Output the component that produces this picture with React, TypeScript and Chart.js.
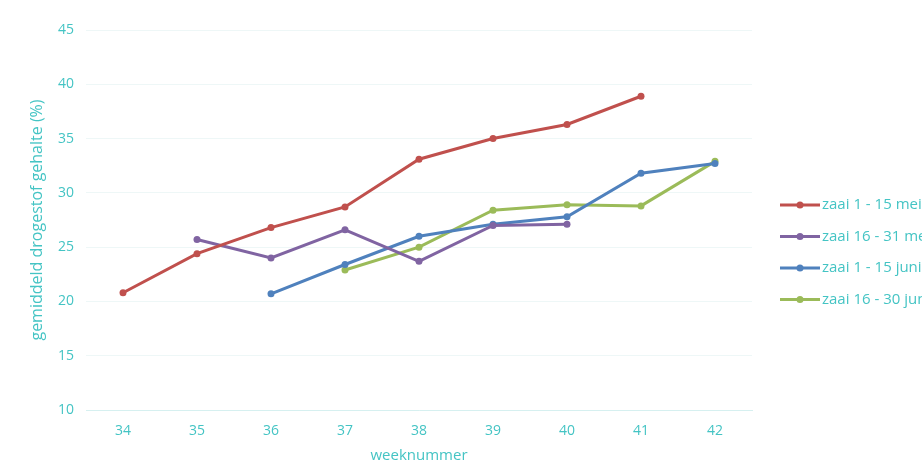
import React, { useEffect, useRef } from "react";
import { Chart, registerables } from "chart.js";

Chart.register(...registerables);

const weeks = ["34", "35", "36", "37", "38", "39", "40", "41", "42"];
const seriesNames = ["zaai 1 - 15 mei", "zaai 16 - 31 mei", "zaai 1 - 15 juni", "zaai 16 - 30 juni"];
const mei1 = [20.8, 24.4, 26.8, 28.7, 33.1, 35.0, 36.3, 38.9, null];
const mei2 = [null, 25.7, 24.0, 26.6, 23.7, 27.0, 27.1, null, null];
const juni1 = [null, null, 20.7, 23.4, 26.0, 27.1, 27.8, 31.8, 32.7];
const juni2 = [null, null, null, 22.9, 25.0, 28.4, 28.9, 28.8, 32.9];
const colors = ["#c0504d", "#8064a2", "#4f81bd", "#9bbb59"];
const yTicks = [10, 15, 20, 25, 30, 35, 40, 45];

const TEXT = "#44c4c4";
const FONT = "'Open Sans', sans-serif";

const legendPlugin = {
  id: "sideLegend",
  afterDraw(chart: any) {
    const { ctx, chartArea } = chart;
    const x0 = chartArea.right + 28;
    const y0 = chartArea.top + 175;
    ctx.save();
    chart.data.datasets.forEach((ds: any, i: number) => {
      const y = y0 + i * 31.5;
      ctx.strokeStyle = ds.borderColor;
      ctx.lineWidth = 3;
      ctx.beginPath();
      ctx.moveTo(x0, y);
      ctx.lineTo(x0 + 40, y);
      ctx.stroke();
      ctx.fillStyle = ds.borderColor;
      ctx.beginPath();
      ctx.arc(x0 + 20, y, 3.5, 0, Math.PI * 2);
      ctx.fill();
      ctx.fillStyle = TEXT;
      ctx.font = "15px " + FONT;
      ctx.textBaseline = "middle";
      ctx.textAlign = "left";
      ctx.fillText(ds.label, x0 + 42, y);
    });
    ctx.restore();
  },
};

export default function App() {
  const ref = useRef<HTMLCanvasElement>(null);
  useEffect(() => {
    const data = [mei1, mei2, juni1, juni2];
    const chart = new Chart(ref.current!, {
      type: "line",
      data: {
        labels: weeks,
        datasets: data.map((d, i) => ({
          label: seriesNames[i],
          data: d as any,
          borderColor: colors[i],
          backgroundColor: colors[i],
          borderWidth: 3,
          pointRadius: 3.5,
          pointBorderWidth: 0,
          pointBackgroundColor: colors[i],
          spanGaps: false,
          tension: 0,
        })),
      },
      options: {
        animation: false,
        responsive: false,
        layout: { padding: { left: 26, right: 170, top: 30, bottom: 0 } },
        plugins: { legend: { display: false }, tooltip: { enabled: false } },
        scales: {
          x: {
            offset: true,
            grid: { display: false, drawTicks: false },
            border: { display: true, color: "#d6f0f0", width: 1 },
            ticks: { color: TEXT, font: { family: FONT, size: 14 }, padding: 13 },
            title: { display: true, text: "weeknummer", color: TEXT, font: { family: FONT, size: 15 }, padding: { top: 4, bottom: 0 } },
            afterFit: (s: any) => { s.height = 55; },
          },
          y: {
            min: 10,
            max: 45,
            afterBuildTicks: (s: any) => { s.ticks = yTicks.map((v) => ({ value: v })); },
            grid: { color: "#eef7f7", drawTicks: false, lineWidth: 1 },
            border: { display: false },
            ticks: { color: TEXT, font: { family: FONT, size: 14 }, padding: 12 },
            title: { display: true, text: "gemiddeld drogestof gehalte (%)", color: TEXT, font: { family: FONT, size: 16 }, padding: { top: 2, bottom: 4 } },
            afterFit: (s: any) => { s.width = 60; },
          },
        },
      },
      plugins: [legendPlugin],
    });
    return () => chart.destroy();
  }, []);
  return (
    <div style={{ position: "fixed", left: 0, top: 0, width: 922, height: 465, overflow: "hidden", background: "#fff" }}>
      <canvas ref={ref} width={922} height={465} style={{ display: "block" }} />
    </div>
  );
}
